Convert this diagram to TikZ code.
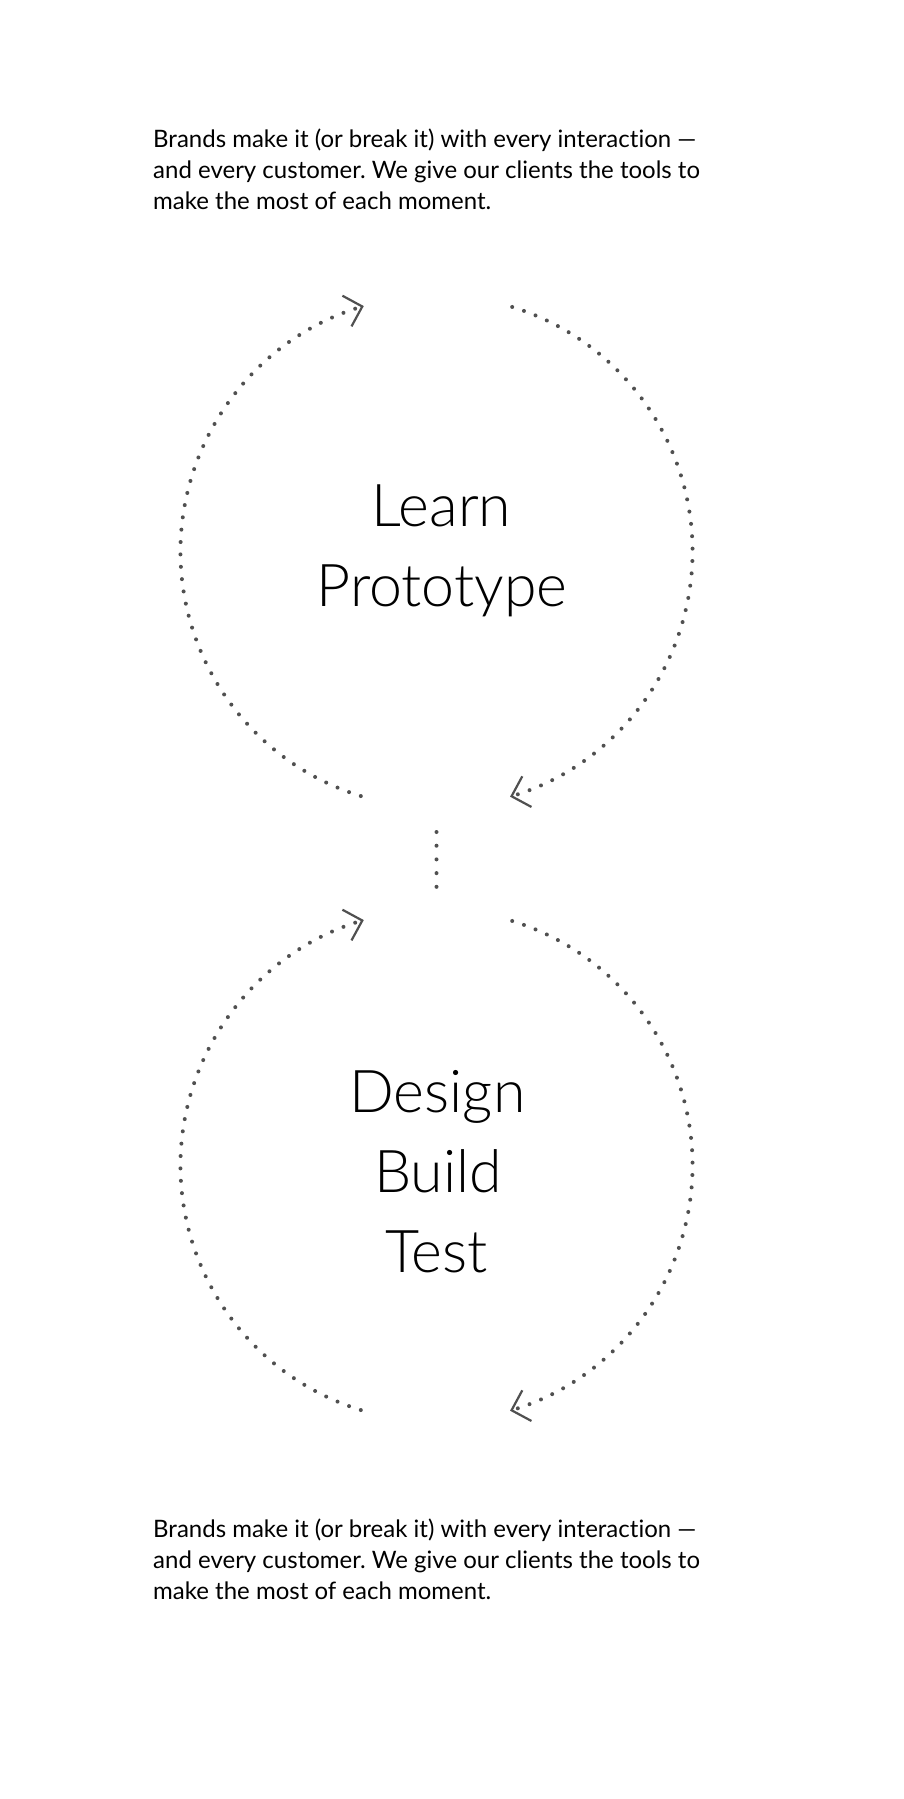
\documentclass[tikz,border=0pt]{standalone}
\usepackage{fontspec}
\setmainfont{Lato}[Ligatures={NoCommon}]
\newfontfamily\lightfont{Lato Light}[Ligatures={NoCommon}]
\usetikzlibrary{arrows.meta}
\definecolor{dotgray}{HTML}{505050}
\frenchspacing
\begin{document}
\begin{tikzpicture}[x=1pt,y=-1pt,
  dotarc/.style={draw=dotgray, line width=4pt, line cap=round, dash pattern=on 0pt off 12.4pt},
  dotline/.style={draw=dotgray, line width=4pt, line cap=round, dash pattern=on 0pt off 13.7pt},
  chevron/.style={-{Straight Barb[length=16pt,width=32pt,line width=2.2pt]}},
  bigtext/.style={font=\lightfont\fontsize{59}{80}\selectfont, inner sep=0pt, anchor=base},
  paratext/.style={font=\fontsize{24}{31}\selectfont, inner sep=0pt, anchor=base west}]
\useasboundingbox (0,0) rectangle (903,1799);
\fill[white] (0,0) rectangle (903,1799);

% top paragraph
\node[paratext] (p1a) at (153,147.3) {Brands make it (or break it) with every interaction —};
\node[paratext] (p1b) at (153,178.5) {and every customer. We give our clients the tools to};
\node[paratext] (p1c) at (153,209.6) {make the most of each moment.};

% circle 1
\coordinate (c1) at (436.5,551.5);
\draw[dotarc, chevron] (c1) ++(107.2:256) arc[start angle=107.2, end angle=253.5, radius=256];
\draw[dotarc, chevron] (c1) ++(-72.8:256) arc[start angle=-72.8, end angle=73.3, radius=256];
\node[bigtext] (learn) at (441.5,526) {Learn};
\node[bigtext] (proto) at (442,606) {Prototype};

% connector
\coordinate (v1) at (436.5,832);
\coordinate (v2) at (436.5,886.8);
\draw[dotline] (v1) -- (v2);

% circle 2
\coordinate (c2) at (436.5,1165.5);
\draw[dotarc, chevron] (c2) ++(107.2:256) arc[start angle=107.2, end angle=253.5, radius=256];
\draw[dotarc, chevron] (c2) ++(-72.8:256) arc[start angle=-72.8, end angle=73.3, radius=256];
\node[bigtext] (design) at (437.5,1112.7) {Design};
\node[bigtext] (build) at (438,1192.7) {Build};
\node[bigtext] (test) at (436.5,1272.3) {Test};

% bottom paragraph
\node[paratext] (p2a) at (153,1537.3) {Brands make it (or break it) with every interaction —};
\node[paratext] (p2b) at (153,1568.5) {and every customer. We give our clients the tools to};
\node[paratext] (p2c) at (153,1599.6) {make the most of each moment.};
\end{tikzpicture}
\end{document}
